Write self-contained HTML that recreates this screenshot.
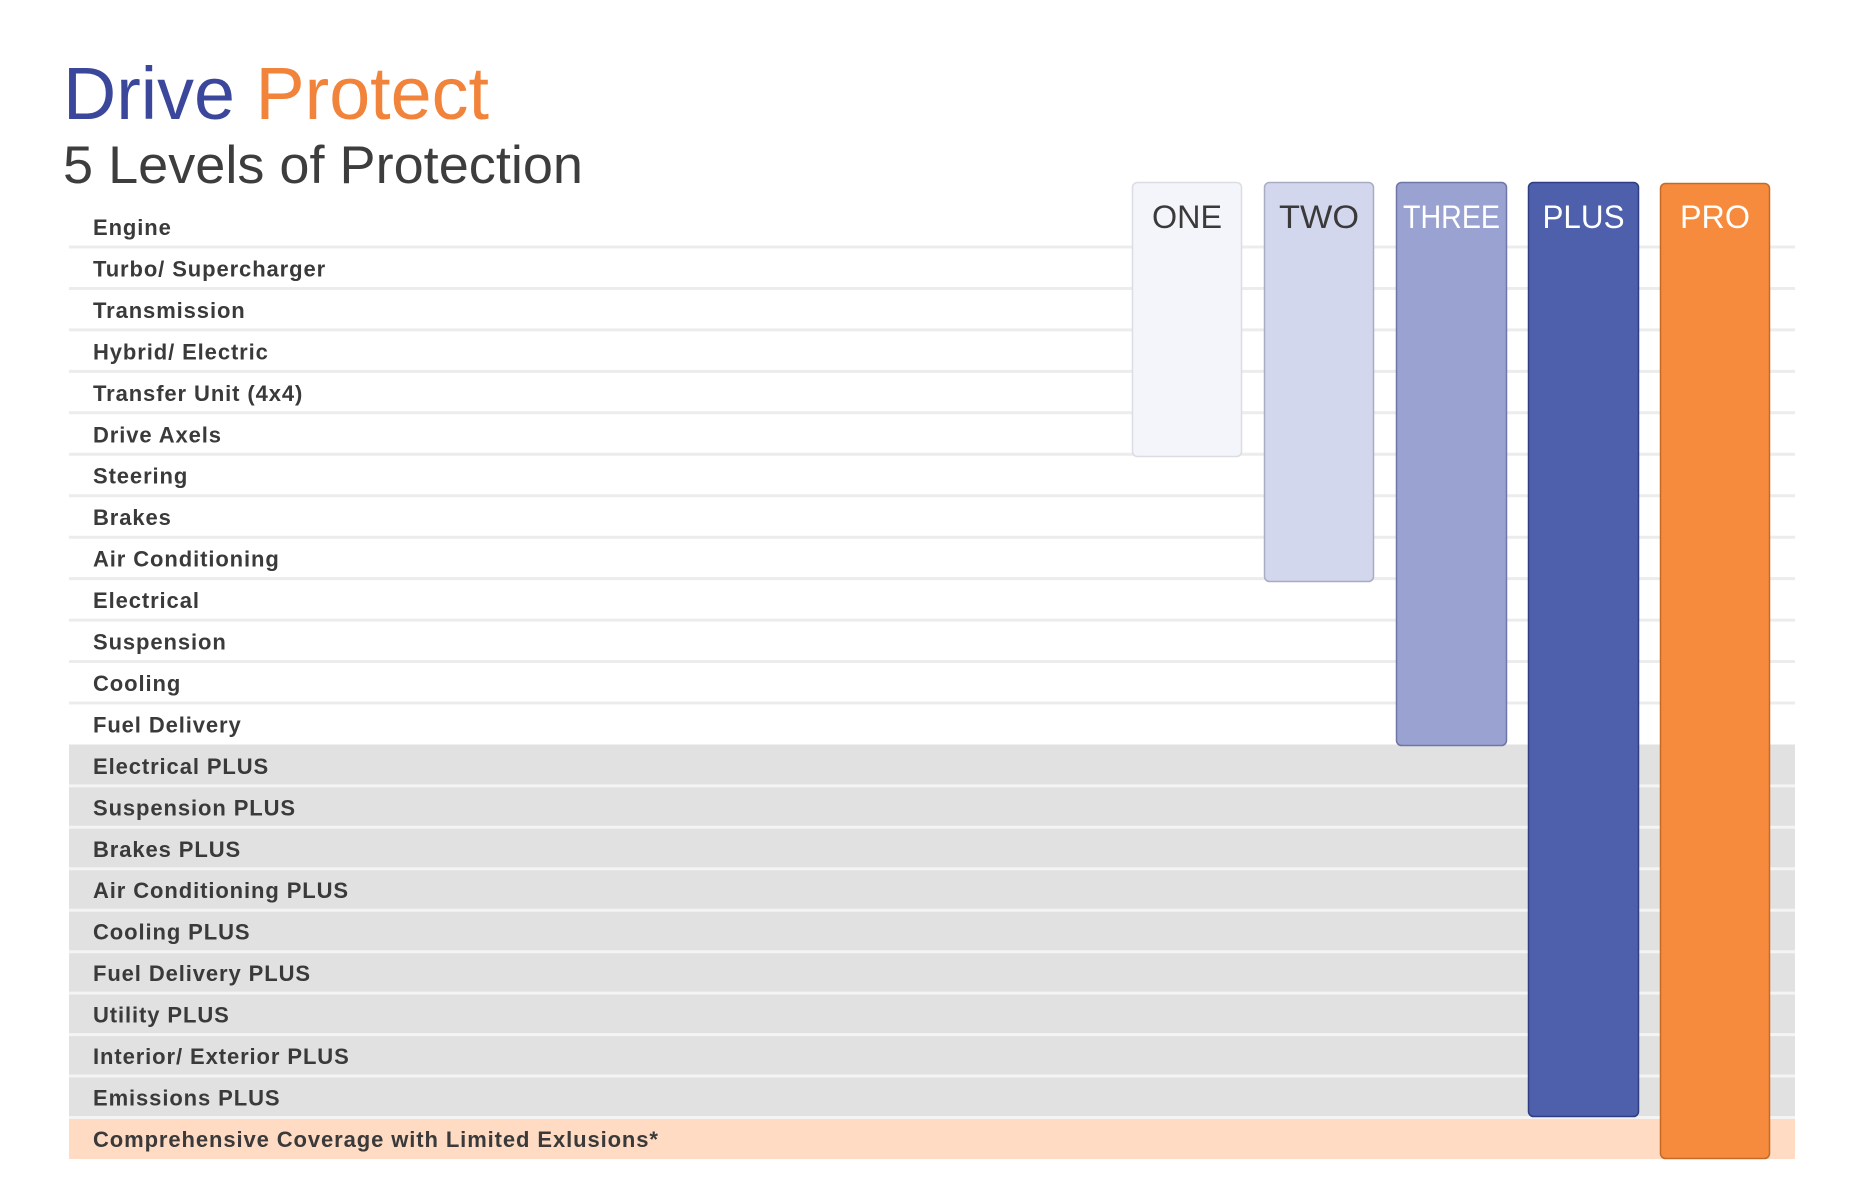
<!DOCTYPE html>
<html><head><meta charset="utf-8"><style>html,body{margin:0;padding:0;background:#fff}svg{display:block}</style></head>
<body>
<svg width="1864" height="1202" viewBox="0 0 1864 1202" xmlns="http://www.w3.org/2000/svg" font-family="Liberation Sans, sans-serif">
<text x="63" y="119" font-size="74" textLength="426" lengthAdjust="spacingAndGlyphs"><tspan fill="#3a479b">Drive</tspan> <tspan fill="#f2833a">Protect</tspan></text>
<text x="63" y="183" font-size="53" fill="#3d3d3d" textLength="520" lengthAdjust="spacingAndGlyphs">5 Levels of Protection</text>
<g transform="translate(0,2)">
<g font-weight="bold" font-size="22" fill="#3a3a3a" letter-spacing="0.9">
<rect x="69" y="742.5" width="1726" height="373" fill="#e1e1e1"/>
<rect x="69" y="1116" width="1726" height="41" fill="#fedbc2"/>
<g stroke="#ececec" stroke-width="3">
<line x1="69" x2="1795" y1="245" y2="245"/><line x1="69" x2="1795" y1="286.5" y2="286.5"/><line x1="69" x2="1795" y1="327.9" y2="327.9"/><line x1="69" x2="1795" y1="369.4" y2="369.4"/><line x1="69" x2="1795" y1="410.8" y2="410.8"/><line x1="69" x2="1795" y1="452.3" y2="452.3"/><line x1="69" x2="1795" y1="493.7" y2="493.7"/><line x1="69" x2="1795" y1="535.2" y2="535.2"/><line x1="69" x2="1795" y1="576.6" y2="576.6"/><line x1="69" x2="1795" y1="618.1" y2="618.1"/><line x1="69" x2="1795" y1="659.5" y2="659.5"/><line x1="69" x2="1795" y1="701" y2="701"/>
</g>
<g stroke="#f4f4f4" stroke-width="3">
<line x1="69" x2="1795" y1="783.9" y2="783.9"/><line x1="69" x2="1795" y1="825.3" y2="825.3"/><line x1="69" x2="1795" y1="866.8" y2="866.8"/><line x1="69" x2="1795" y1="908.2" y2="908.2"/><line x1="69" x2="1795" y1="949.7" y2="949.7"/><line x1="69" x2="1795" y1="991.1" y2="991.1"/><line x1="69" x2="1795" y1="1032.6" y2="1032.6"/><line x1="69" x2="1795" y1="1074" y2="1074"/><line x1="69" x2="1795" y1="1115.5" y2="1115.5"/>
</g>
<text x="93" y="233">Engine</text>
<text x="93" y="274.5">Turbo/ Supercharger</text>
<text x="93" y="315.9">Transmission</text>
<text x="93" y="357.4">Hybrid/ Electric</text>
<text x="93" y="398.8">Transfer Unit (4x4)</text>
<text x="93" y="440.3">Drive Axels</text>
<text x="93" y="481.7">Steering</text>
<text x="93" y="523.2">Brakes</text>
<text x="93" y="564.6">Air Conditioning</text>
<text x="93" y="606.1">Electrical</text>
<text x="93" y="647.5">Suspension</text>
<text x="93" y="689">Cooling</text>
<text x="93" y="730.4">Fuel Delivery</text>
<text x="93" y="771.9">Electrical PLUS</text>
<text x="93" y="813.3">Suspension PLUS</text>
<text x="93" y="854.8">Brakes PLUS</text>
<text x="93" y="896.2">Air Conditioning PLUS</text>
<text x="93" y="937.7">Cooling PLUS</text>
<text x="93" y="979.1">Fuel Delivery PLUS</text>
<text x="93" y="1020.6">Utility PLUS</text>
<text x="93" y="1062">Interior/ Exterior PLUS</text>
<text x="93" y="1103.5">Emissions PLUS</text>
<text x="93" y="1145">Comprehensive Coverage with Limited Exlusions*</text>
</g>
</g>
<rect x="1132.5" y="182.5" width="109" height="274" rx="5" fill="#f4f5fa" stroke="#dcdde3" stroke-width="1.5"/>
<rect x="1264.5" y="182.5" width="109" height="399" rx="5" fill="#d3d7ed" stroke="#a9acc4" stroke-width="1.5"/>
<rect x="1396.5" y="182.5" width="110" height="563" rx="5" fill="#9aa2d1" stroke="#6f76a6" stroke-width="1.5"/>
<rect x="1528.5" y="182.5" width="110" height="934" rx="5" fill="#4e5fab" stroke="#2f3d85" stroke-width="1.5"/>
<rect x="1660.5" y="183.5" width="109" height="975" rx="5" fill="#f68b3d" stroke="#c46a26" stroke-width="1.5"/>
<g font-size="32" text-anchor="middle">
<text x="1187" y="228" fill="#3a3a3a" textLength="70" lengthAdjust="spacingAndGlyphs">ONE</text>
<text x="1319" y="228" fill="#3a3a3a" textLength="80" lengthAdjust="spacingAndGlyphs">TWO</text>
<text x="1451.5" y="228" fill="#fff" textLength="97" lengthAdjust="spacingAndGlyphs">THREE</text>
<text x="1583.5" y="228" fill="#fff" textLength="82" lengthAdjust="spacingAndGlyphs">PLUS</text>
<text x="1715" y="228" fill="#fff" textLength="70" lengthAdjust="spacingAndGlyphs">PRO</text>
</g>
</svg>
</body></html>
